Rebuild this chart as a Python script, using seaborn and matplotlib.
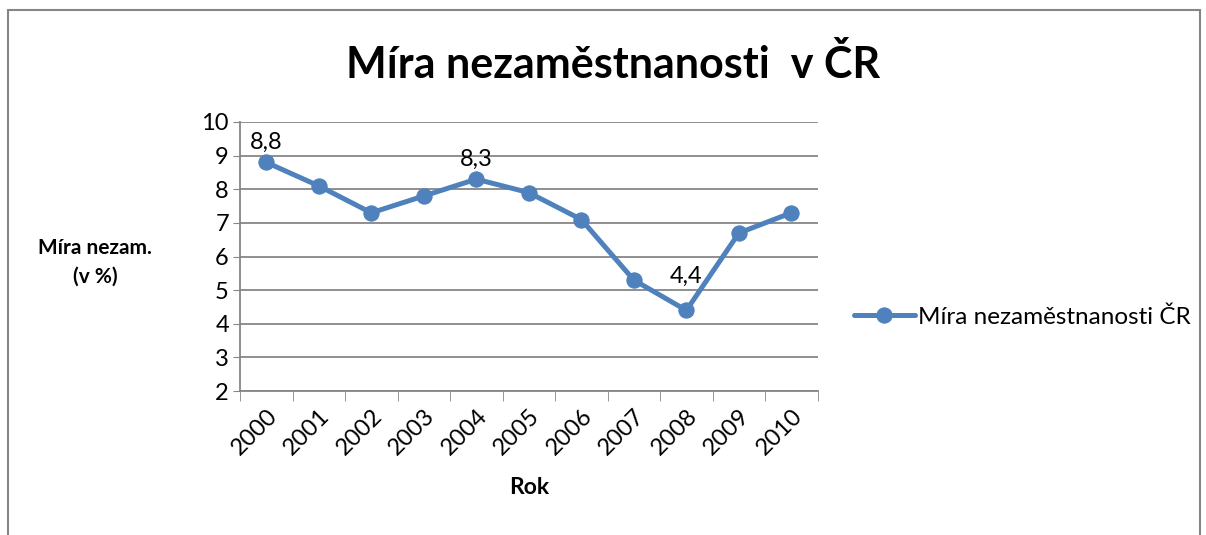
import matplotlib
matplotlib.use("Agg")
import matplotlib.pyplot as plt
import seaborn as sns
import pandas as pd
import numpy as np
from matplotlib.patches import Rectangle

years = ['2000', '2001', '2002', '2003', '2004', '2005', '2006', '2007', '2008', '2009', '2010']
rate = [8.8, 8.1, 7.3, 7.8, 8.3, 7.9, 7.1, 5.3, 4.4, 6.7, 7.3]
labelled = ['2000', '2004', '2008']
series_name = 'Míra nezaměstnanosti ČR'

sns.set_style("white")
plt.rcParams['font.family'] = ['Lato', 'DejaVu Sans']
plt.rcParams['text.color'] = 'black'
plt.rcParams['axes.labelcolor'] = 'black'

df = pd.DataFrame({'Rok': years, 'rate': rate, 'pos': np.arange(len(years))})

fig = plt.figure(figsize=(12.06, 5.35), dpi=100)
ax = fig.add_axes([0.199, 0.269, 0.479, 0.503])

grey = '#868686'
blue = '#4F81BD'

sns.lineplot(data=df, x='pos', y='rate', ax=ax, color=blue, linewidth=3.6,
             marker='o', markersize=11, markeredgecolor=blue, label=series_name)

# data labels (the 2008 one sits a bit higher in the original)
for i, (y, v) in enumerate(zip(years, rate)):
    if y in labelled:
        off = 17 if y == '2008' else 7
        ax.annotate(f'{v}'.replace('.', ','), (i, v), xytext=(0, off), textcoords='offset points',
                    ha='center', va='bottom', fontsize=17)

ax.set_xlim(-0.5, len(years) - 0.5)
ax.set_ylim(2, 10)
ax.set_yticks(range(2, 11))
ax.tick_params(axis='y', labelsize=17, length=5, color=grey, labelcolor='black',
               direction='out', left=True, pad=3)
ax.set_xticks(np.arange(len(years)))
ax.set_xticklabels(years, rotation=45, ha='right', rotation_mode='anchor', fontsize=17)
ax.set_xticks(np.arange(-0.5, len(years)), minor=True)
ax.tick_params(axis='x', which='major', length=0, pad=10, labelcolor='black')
ax.tick_params(axis='x', which='minor', length=7, color=grey, direction='out', bottom=True)
ax.yaxis.grid(True, color=grey, linewidth=1.3)
ax.set_axisbelow(True)
for side in ['top', 'right']:
    ax.spines[side].set_visible(False)
for side in ['left', 'bottom']:
    ax.spines[side].set_color(grey)
    ax.spines[side].set_linewidth(1.3)

ax.set_xlabel('Rok', fontsize=16.5, fontweight='bold', labelpad=13)
ax.set_ylabel('')
fig.text(0.079, 0.51, 'Míra nezam.\n(v %)', ha='center', va='center', fontsize=15,
         fontweight='bold', linespacing=1.55)

fig.suptitle('Míra nezaměstnanosti  v ČR', x=0.508, y=0.918, fontsize=31, fontweight='bold')

leg = ax.legend(loc='center left', bbox_to_anchor=(1.025, 0.275), frameon=False, fontsize=17.5,
                handlelength=2.5, handletextpad=0.15)
for t in leg.get_texts():
    t.set_color('black')

fig.patches.append(Rectangle((0.007, -0.1), 0.988, 1.081, transform=fig.transFigure,
                             fill=False, edgecolor=grey, linewidth=1.5))

fig.savefig('out.png', dpi=100)
